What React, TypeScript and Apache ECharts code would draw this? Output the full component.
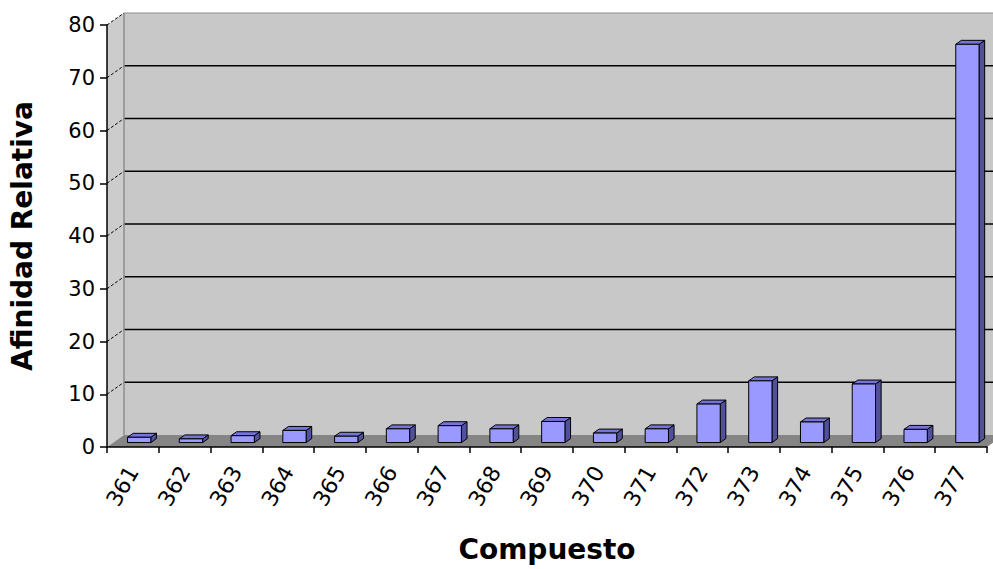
import React, { useEffect, useRef } from "react";
import * as echarts from "echarts";

const categories = ["361", "362", "363", "364", "365", "366", "367", "368", "369", "370", "371", "372", "373", "374", "375", "376", "377"];
const values = [1.0, 0.7, 1.3, 2.3, 1.2, 2.6, 3.2, 2.6, 4.0, 1.8, 2.6, 7.3, 11.7, 3.9, 11.1, 2.5, 75.5];
const yTicks = [0, 10, 20, 30, 40, 50, 60, 70, 80];

const DX = 17;
const DY = 12;
const FONT = "'DejaVu Sans', Arial, sans-serif";

export default function App() {
  const ref = useRef<HTMLDivElement>(null);
  useEffect(() => {
    document.body.style.margin = "0";
    const chart = echarts.init(ref.current!, null, { renderer: "svg" });
    const yMax = yTicks[yTicks.length - 1];

    const wallsItem = (params: any, api: any) => {
      const cs = params.coordSys;
      const x0 = cs.x;
      const x1 = cs.x + cs.width;
      const yTop = api.coord([0, yMax])[1];
      const yBot = api.coord([0, 0])[1];
      const children: any[] = [];
      children.push({
        type: "polygon",
        shape: { points: [[x0 + DX, yTop - DY], [x1 + DX, yTop - DY], [x1 + DX, yBot - DY], [x0 + DX, yBot - DY]] },
        style: { fill: "#c8c8c8" },
      });
      children.push({
        type: "polygon",
        shape: { points: [[x0, yTop], [x0 + DX, yTop - DY], [x0 + DX, yBot - DY], [x0, yBot]] },
        style: { fill: "#cccccc" },
      });
      children.push({
        type: "polygon",
        shape: { points: [[x0, yBot], [x1, yBot], [x1 + DX, yBot - DY], [x0 + DX, yBot - DY]] },
        style: { fill: "#858585" },
      });
      yTicks.forEach((t) => {
        if (t === 0) return;
        const y = api.coord([0, t])[1];
        const isTop = t === yMax;
        children.push({
          type: "line",
          shape: { x1: x0 + DX, y1: y - DY, x2: x1 + DX, y2: y - DY },
          style: { stroke: isTop ? "#8c8c8c" : "#000", lineWidth: isTop ? 1 : 1.5 },
        });
        children.push({
          type: "line",
          shape: { x1: x0, y1: y, x2: x0 + DX, y2: y - DY },
          style: { stroke: "#000", lineWidth: 1, lineDash: [3, 2] },
        });
      });
      children.push({
        type: "line",
        shape: { x1: x0 + DX, y1: yTop - DY, x2: x0 + DX, y2: yBot - DY },
        style: { stroke: "#8c8c8c", lineWidth: 1.5 },
      });
      return { type: "group", children };
    };

    const barItem = (params: any, api: any) => {
      const i = api.value(0);
      const v = api.value(1);
      const [cx, yb] = api.coord([i, 0]);
      const yt = api.coord([i, v])[1];
      const band = api.size([1, 0])[0];
      const w = band * 0.45;
      const f = 0.37;
      const b = 0.7;
      const fx = DX * f;
      const fy = DY * f;
      const ddx = DX * (b - f);
      const ddy = DY * (b - f);
      const l = cx - w / 2 + fx;
      const r = l + w;
      const top = yt - fy;
      const bot = yb - fy;
      const stroke = { stroke: "#000", lineWidth: 1, lineJoin: "miter" };
      return {
        type: "group",
        children: [
          {
            type: "polygon",
            shape: { points: [[r, top], [r + ddx, top - ddy], [r + ddx, bot - ddy], [r, bot]] },
            style: { fill: "#50509f", ...stroke },
          },
          {
            type: "polygon",
            shape: { points: [[l, top], [r, top], [r + ddx, top - ddy], [l + ddx, top - ddy]] },
            style: { fill: "#7474da", ...stroke },
          },
          {
            type: "rect",
            shape: { x: l, y: top, width: w, height: bot - top },
            style: { fill: "#9999ff", ...stroke },
          },
        ],
      };
    };

    chart.setOption({
      animation: false,
      backgroundColor: "#ffffff",
      grid: { left: 106, right: 6, top: 25, bottom: 122, containLabel: false },
      xAxis: {
        type: "category",
        data: categories,
        boundaryGap: true,
        name: "Compuesto",
        nameLocation: "middle",
        nameGap: 88,
        nameTextStyle: { fontFamily: FONT, fontSize: 28, fontWeight: "bold", color: "#000" },
        axisLine: { show: true, lineStyle: { color: "#000", width: 1.5 } },
        axisTick: { show: true, length: 6, lineStyle: { color: "#000", width: 1.5 } },
        axisLabel: { rotate: 60, margin: 21, fontFamily: FONT, fontSize: 22, color: "#000", interval: 0 },
        splitLine: { show: false },
        z: 0,
      },
      yAxis: {
        type: "value",
        min: 0,
        max: 80,
        interval: 10,
        name: "Afinidad Relativa",
        nameLocation: "middle",
        nameRotate: 90,
        nameGap: 71,
        nameTextStyle: { fontFamily: FONT, fontSize: 28, fontWeight: "bold", color: "#000" },
        axisLine: { show: true, lineStyle: { color: "#000", width: 1.5 } },
        axisTick: { show: true, length: 7, lineStyle: { color: "#000", width: 1.5 } },
        axisLabel: { margin: 12, fontFamily: FONT, fontSize: 21, color: "#000" },
        splitLine: { show: false },
        z: 0,
      },
      series: [
        {
          type: "custom",
          name: "walls",
          z: -1,
          silent: true,
          renderItem: wallsItem,
          data: [[0, 0]],
        },
        {
          type: "custom",
          name: "Afinidad",
          z: 2,
          renderItem: barItem,
          encode: { x: 0, y: 1 },
          data: values.map((v, i) => [i, v]),
        },
      ],
    });
    return () => chart.dispose();
  }, []);
  return <div ref={ref} style={{ width: 993, height: 569 }} />;
}
